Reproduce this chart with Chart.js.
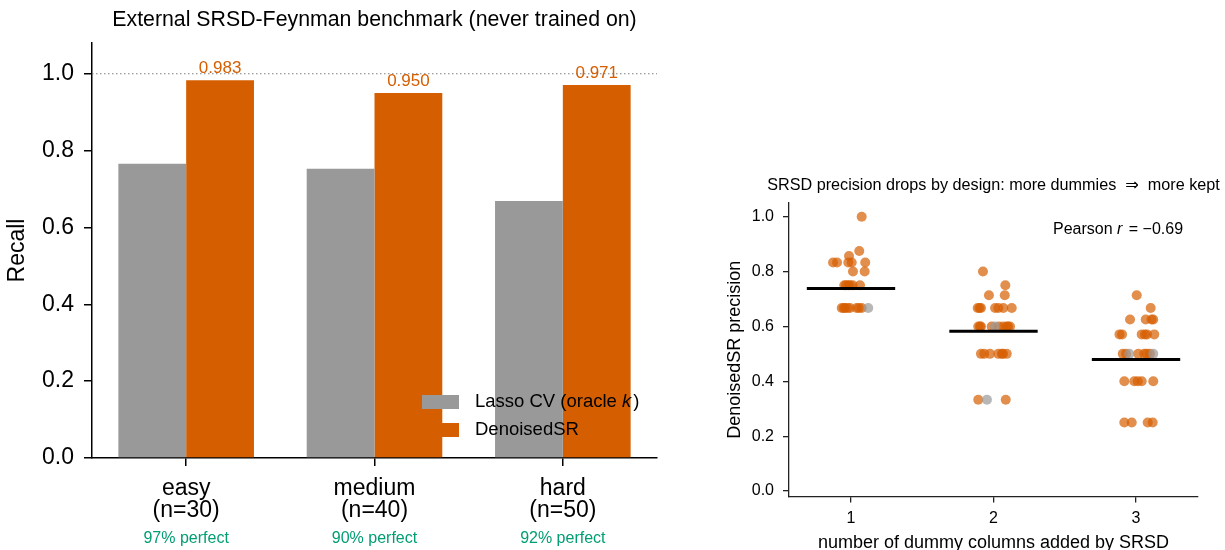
<!DOCTYPE html>
<html>
<head>
<meta charset="utf-8">
<script src="https://cdn.jsdelivr.net/npm/chart.js@4.4.0/dist/chart.umd.min.js"></script>
<style>
  html, body { margin: 0; padding: 0; background: #fff; }
  #wrap { position: relative; width: 1225px; height: 550px; overflow: hidden; }
  #recallChart { position: absolute; left: 0; top: 0; }
  #precChart { position: absolute; left: 700px; top: 0; }
</style>
</head>
<body>
<div id="wrap">
  <canvas id="recallChart" width="700" height="550"></canvas>
  <canvas id="precChart" width="525" height="550"></canvas>
</div>
<script>
	// left panel data
	var categories = ['easy', 'medium', 'hard'];
	var categoryN = [30, 40, 50];
	var perfectPct = [97, 90, 92];
	var seriesNames = ['Lasso CV (oracle k)', 'DenoisedSR'];
	var lassoRecall = [0.766, 0.753, 0.669];
	var denoisedRecall = [0.983, 0.950, 0.971];

	// right panel data (x = dummy count + jitter)
	var dummyCounts = [1, 2, 3];
	var g1Prec = [1.0, 0.875, 0.857, 0.833, 0.833, 0.833, 0.833, 0.833, 0.8, 0.8, 0.75, 0.75, 0.75, 0.75, 0.75, 0.75, 0.667, 0.667, 0.667, 0.667, 0.667, 0.667, 0.667, 0.667];
	var g1X = [1.075, 1.058, 0.986, 0.874, 0.902, 0.981, 1.005, 1.100, 1.014, 1.096, 0.953, 0.965, 0.981, 0.993, 1.012, 1.063, 0.935, 0.949, 0.958, 0.975, 0.993, 1.040, 1.056, 1.075];
	var g2Prec = [0.8, 0.75, 0.714, 0.714, 0.667, 0.667, 0.667, 0.667, 0.667, 0.667, 0.667, 0.6, 0.6, 0.6, 0.6, 0.6, 0.6, 0.6, 0.6, 0.6, 0.5, 0.5, 0.5, 0.5, 0.5, 0.5, 0.5, 0.333, 0.333];
	var g2X = [1.926, 2.083, 1.968, 2.079, 1.889, 1.902, 1.912, 2.011, 2.034, 2.069, 2.128, 1.893, 1.905, 1.912, 1.987, 2.039, 2.069, 2.093, 2.102, 2.116, 1.912, 1.935, 1.975, 2.034, 2.058, 2.067, 2.093, 1.893, 2.086];
	var g3Prec = [0.714, 0.667, 0.625, 0.625, 0.625, 0.625, 0.571, 0.571, 0.571, 0.571, 0.571, 0.571, 0.5, 0.5, 0.5, 0.5, 0.5, 0.5, 0.4, 0.4, 0.4, 0.4, 0.4, 0.25, 0.25, 0.25, 0.25];
	var g3X = [3.005, 3.103, 2.958, 3.068, 3.109, 3.121, 2.884, 2.902, 3.040, 3.063, 3.077, 3.128, 2.907, 2.930, 3.016, 3.058, 3.075, 3.098, 2.918, 2.988, 3.012, 3.040, 3.121, 2.918, 2.970, 3.082, 3.117];
	var grayPrec = [0.667, 0.6, 0.333, 0.5, 0.5];
	var grayX = [1.121, 2.011, 1.954, 2.953, 3.121];
	var groupMeans = [0.738, 0.582, 0.479];
	var pearsonR = -0.69;

	var ORANGE = '#D55E00', GRAY = '#999999', GREEN = '#009E73';
	Chart.defaults.font.family = '"Liberation Sans", Arial, sans-serif';
	Chart.defaults.color = '#000';

	// draws text, single lower-case letters (math variables) in italic
	function drawRich(ctx, text, x, y, size){
		let parts = text.split(/(?<=[\s(])([a-z])(?=[\s)]|$)/);
		let cx = x;
		ctx.textAlign = 'left';
		parts.forEach((p, i) => {
			ctx.font = (i % 2 ? 'italic ' : '') + size + 'px "Liberation Sans", Arial, sans-serif';
			ctx.fillText(p, cx, y);
			cx += ctx.measureText(p).width + (i % 2 ? 2 : 0);
		});
	}

	var recallDeco = {
		id: 'recallDeco',
		beforeDatasetsDraw(chart){
			let ctx = chart.ctx, y = chart.scales.y.getPixelForValue(1.0);
			ctx.save();
			ctx.strokeStyle = '#808080';
			ctx.lineWidth = 1.2;
			ctx.setLineDash([1.5, 2.5]);
			ctx.beginPath();
			ctx.moveTo(chart.chartArea.left, y);
			ctx.lineTo(chart.chartArea.right, y);
			ctx.stroke();
			ctx.restore();
		},
		afterDatasetsDraw(chart){
			let ctx = chart.ctx, meta = chart.getDatasetMeta(1);
			ctx.save();
			ctx.fillStyle = ORANGE;
			ctx.font = '17px "Liberation Sans", Arial, sans-serif';
			ctx.textAlign = 'center';
			ctx.textBaseline = 'bottom';
			meta.data.forEach((bar, i) => {
				ctx.fillText(denoisedRecall[i].toFixed(3), bar.x, bar.y - 3);
			});
			ctx.restore();
		},
		afterDraw(chart){
			let ctx = chart.ctx, area = chart.chartArea, xs = chart.scales.x;
			ctx.save();
			ctx.fillStyle = '#000';
			ctx.textAlign = 'center';
			ctx.textBaseline = 'middle';
			ctx.font = '21.3px "Liberation Sans", Arial, sans-serif';
			ctx.fillText('External SRSD-Feynman benchmark (never trained on)', (area.left + area.right) / 2, 20);

			ctx.save();
			ctx.translate(18, (area.top + area.bottom) / 2);
			ctx.rotate(-Math.PI / 2);
			ctx.font = '23px "Liberation Sans", Arial, sans-serif';
			ctx.fillText('Recall', 0, 0);
			ctx.restore();

			ctx.fillStyle = GREEN;
			ctx.font = '16px "Liberation Sans", Arial, sans-serif';
			categories.forEach((c, i) => {
				ctx.fillText(perfectPct[i] + '% perfect', xs.getPixelForValue(i), 539);
			});

			// legend
			let colors = [GRAY, ORANGE];
			seriesNames.forEach((name, i) => {
				let y = 395 + i * 28;
				ctx.fillStyle = colors[i];
				ctx.fillRect(422, y, 37, 14);
				ctx.fillStyle = '#000';
				ctx.textBaseline = 'middle';
				drawRich(ctx, name, 475, y + 7, 18.5);
			});
			ctx.restore();
		}
	};

	new Chart(document.getElementById('recallChart'), {
		type: 'bar',
		data: {
			labels: categories.map((c, i) => [c, `(n=${categoryN[i]})`]),
			datasets: [
				{ label: seriesNames[0], data: lassoRecall, backgroundColor: GRAY },
				{ label: seriesNames[1], data: denoisedRecall, backgroundColor: ORANGE }
			]
		},
		options: {
			responsive: false,
			animation: false,
			categoryPercentage: 0.72,
			barPercentage: 1.0,
			layout: { padding: { top: 43, right: 43, left: 0, bottom: 0 } },
			plugins: { legend: { display: false }, tooltip: { enabled: false } },
			scales: {
				x: {
					afterFit: s => { s.height = 92; },
					grid: { offset: false, drawOnChartArea: false, tickLength: 8, color: '#000', lineWidth: 1.5 },
					border: { color: '#000', width: 1.5 },
					ticks: { font: { size: 23, lineHeight: 0.98 }, color: '#000', padding: 11, maxRotation: 0, autoSkip: false }
				},
				y: {
					min: 0, max: 1.08,
					afterFit: s => { s.width = 92; },
					grid: { drawOnChartArea: false, tickLength: 8, color: '#000', lineWidth: 1.5 },
					border: { color: '#000', width: 1.5 },
					ticks: { stepSize: 0.2, includeBounds: false, font: { size: 23 }, color: '#000', padding: 10,
						callback: v => v.toFixed(1) }
				}
			}
		},
		plugins: [recallDeco]
	});

	var precDeco = {
		id: 'precDeco',
		afterDraw(chart){
			let ctx = chart.ctx, area = chart.chartArea;
			ctx.save();
			ctx.fillStyle = '#000';
			ctx.textAlign = 'center';
			ctx.textBaseline = 'middle';
			ctx.font = '16.2px "Liberation Sans", "DejaVu Sans", Arial, sans-serif';
			ctx.fillText('SRSD precision drops by design: more dummies  \u21D2  more kept', (area.left + area.right) / 2, 186);

			ctx.font = '18px "Liberation Sans", Arial, sans-serif';
			ctx.fillText('number of dummy columns added by SRSD', (area.left + area.right) / 2, 543);

			ctx.save();
			ctx.translate(35, (area.top + area.bottom) / 2);
			ctx.rotate(-Math.PI / 2);
			ctx.fillText('DenoisedSR precision', 0, 0);
			ctx.restore();

			drawRich(ctx, 'Pearson r = \u2212' + Math.abs(pearsonR).toFixed(2), 353, 230, 16);
			ctx.restore();
		}
	};

	var orangePts = [];
	[[g1X, g1Prec], [g2X, g2Prec], [g3X, g3Prec]].forEach(([xs, ys]) => {
		xs.forEach((x, i) => orangePts.push({ x: x, y: ys[i] }));
	});
	var meanSets = groupMeans.map((m, i) => ({
		type: 'line',
		data: [{ x: dummyCounts[i] - 0.31, y: m }, { x: dummyCounts[i] + 0.31, y: m }],
		borderColor: '#000', borderWidth: 3, pointRadius: 0
	}));

	new Chart(document.getElementById('precChart'), {
		type: 'scatter',
		data: {
			datasets: meanSets.concat([
				{ data: grayX.map((x, i) => ({ x: x, y: grayPrec[i] })), backgroundColor: 'rgba(153,153,153,0.7)', borderWidth: 0, pointRadius: 5 },
				{ data: orangePts, backgroundColor: 'rgba(213,94,0,0.7)', borderWidth: 0, pointRadius: 5 }
			])
		},
		options: {
			responsive: false,
			animation: false,
			layout: { padding: { top: 203, right: 27, left: 0, bottom: 0 } },
			plugins: { legend: { display: false }, tooltip: { enabled: false } },
			scales: {
				x: {
					type: 'linear', min: 0.565, max: 3.435,
					afterFit: s => { s.height = 53.5; },
					grid: { drawOnChartArea: false, tickLength: 6, color: '#222', lineWidth: 1.3 },
					border: { color: '#222', width: 1.3 },
					ticks: { stepSize: 1, includeBounds: false, font: { size: 16 }, color: '#000', padding: 6 }
				},
				y: {
					min: -0.02, max: 1.05,
					afterFit: s => { s.width = 89; },
					grid: { drawOnChartArea: false, tickLength: 6, color: '#222', lineWidth: 1.3 },
					border: { color: '#222', width: 1.3 },
					ticks: { stepSize: 0.2, includeBounds: false, font: { size: 16 }, color: '#000', padding: 9,
						callback: v => v.toFixed(1) }
				}
			}
		},
		plugins: [precDeco]
	});
</script>
</body>
</html>
